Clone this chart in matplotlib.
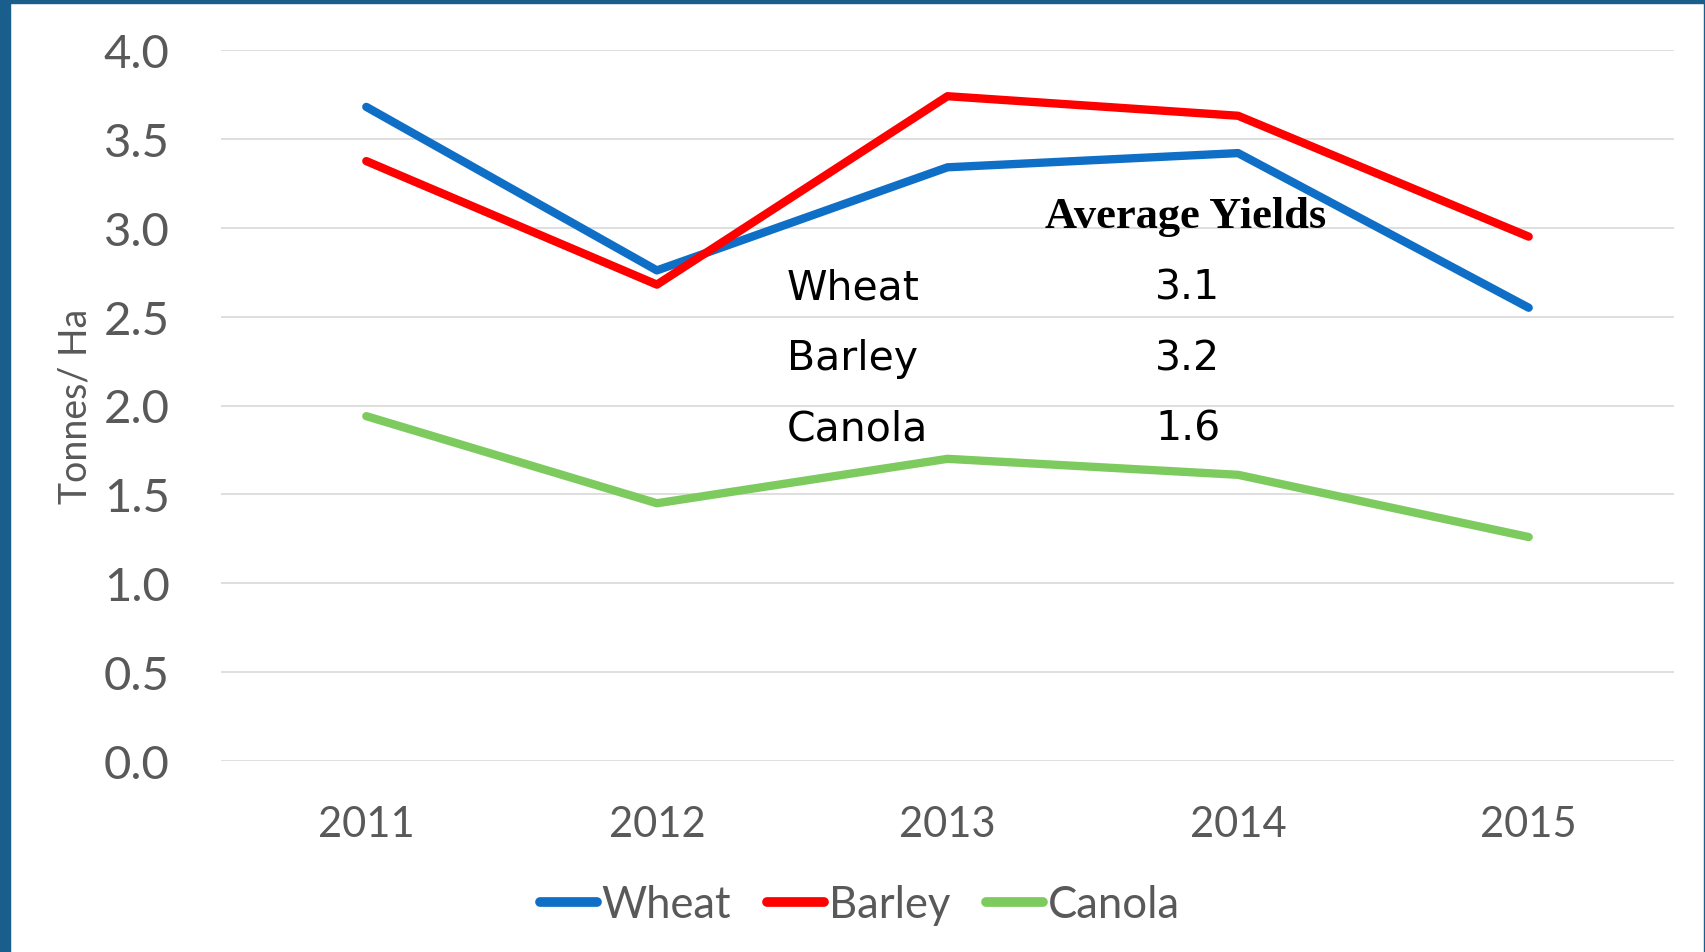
import matplotlib
matplotlib.use("Agg")
import matplotlib.pyplot as plt
from matplotlib.patches import Rectangle

years = ["2011", "2012", "2013", "2014", "2015"]
wheat = [3.68, 2.76, 3.34, 3.42, 2.55]
barley = [3.375, 2.68, 3.74, 3.63, 2.95]
canola = [1.94, 1.45, 1.70, 1.61, 1.26]

avg_names = ["Wheat", "Barley", "Canola"]
avg_values = ["3.1", "3.2", "1.6"]

colors = ["#0F6FC6", "#FF0000", "#7DCB5F"]
grey = "#595959"

fig = plt.figure(figsize=(17.06, 9.53), dpi=100)
ax = fig.add_axes([221 / 1706, 1 - 762 / 953, 1453 / 1706, 711 / 953])

x = range(len(years))
for vals, name, c in zip([wheat, barley, canola], ["Wheat", "Barley", "Canola"], colors):
    ax.plot(x, vals, color=c, lw=6, label=name, solid_capstyle="round", zorder=3)

ax.set_xlim(-0.5, 4.5)
ax.set_ylim(0, 4.0)
ax.set_yticks([i * 0.5 for i in range(9)])
ax.set_yticklabels([f"{i * 0.5:.1f}" for i in range(9)])
ax.set_xticks(list(x))
ax.set_xticklabels(years)
ax.grid(axis="y", color="#D9D9D9", lw=1.2, zorder=0)
for s in ax.spines.values():
    s.set_visible(False)
ax.tick_params(axis="y", length=0, pad=37, labelsize=34, labelcolor=grey)
ax.tick_params(axis="x", length=0, pad=32, labelsize=30, labelcolor=grey)
for lab in ax.get_xticklabels() + ax.get_yticklabels():
    lab.set_family("Lato")

fig.text(76 / 1706, 1 - 406 / 953, "Tonnes/ Ha", rotation=90, ha="center", va="center",
         fontsize=27, color=grey, family="Lato")

# average yields table inside the plot
ax.text(0.664, 0.751, "Average Yields", transform=ax.transAxes, ha="center", va="baseline",
        fontsize=32, fontweight="bold", family="Liberation Serif", color="black")
for i, (n, v) in enumerate(zip(avg_names, avg_values)):
    yb = [0.651, 0.551, 0.4515][i]
    ax.text(0.3895, yb, n, transform=ax.transAxes, ha="left", va="baseline",
            fontsize=29.5, family="DejaVu Sans", color="black")
    ax.text(0.643, yb, v, transform=ax.transAxes, ha="left", va="baseline",
            fontsize=29.5, family="DejaVu Sans", color="black")

leg = fig.legend(loc="center", bbox_to_anchor=(860 / 1706, 1 - 906 / 953), ncol=3,
                 frameon=False, prop={"family": "Lato", "size": 31.4},
                 handlelength=1.3, handletextpad=0.11, columnspacing=0.83)
for t in leg.get_texts():
    t.set_color(grey)
for h in leg.get_lines():
    h.set_linewidth(7)

# dark blue frame
border = "#1A5E8B"
fig.patches.append(Rectangle((0, 0), 10 / 1706, 1, transform=fig.transFigure, color=border))
fig.patches.append(Rectangle((0, 1 - 4 / 953), 1, 4 / 953, transform=fig.transFigure, color=border))
fig.patches.append(Rectangle((1 - 2 / 1706, 0), 2 / 1706, 1, transform=fig.transFigure, color=border))

fig.savefig("out.png", dpi=100)
